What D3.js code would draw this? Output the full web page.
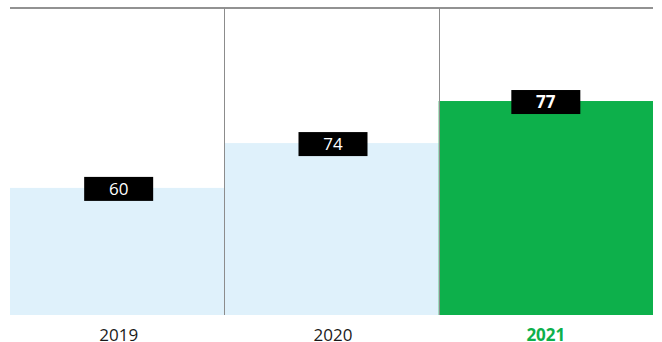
<!DOCTYPE html>
<html>
<head>
<meta charset="utf-8">
<script src="https://cdn.jsdelivr.net/npm/d3@7"></script>
<style>
  html, body { margin: 0; padding: 0; background: #fff; }
  svg { display: block; }
</style>
</head>
<body>
<svg id="chart" width="662" height="342"></svg>
<script>
const years = ["2019", "2020", "2021"];
const labelValues = [60, 74, 77];
// bar heights as drawn, in percent of the plot height
const barLevels = [41.4, 56.0, 69.7];
const highlight = "2021";

(function () {
const svg = d3.select("#chart");
const plotLeft = 10, plotRight = 653, plotTop = 8, plotBottom = 315;
const font = "'Open Sans', 'Noto Sans', sans-serif";

const x = d3.scaleBand().domain(years).range([plotLeft, plotRight]).paddingInner(0).paddingOuter(0);
const y = d3.scaleLinear().domain([0, 100]).range([plotBottom, plotTop]);

const green = "#0db04b";
const light = "#dff1fb";

// bars
svg.selectAll("rect.bar").data(years).join("rect")
  .attr("class", "bar")
  .attr("x", d => x(d))
  .attr("width", x.bandwidth())
  .attr("y", (d, i) => y(barLevels[i]))
  .attr("height", (d, i) => plotBottom - y(barLevels[i]))
  .attr("fill", d => d === highlight ? green : light);

// top line
svg.append("line")
  .attr("x1", plotLeft).attr("x2", plotRight)
  .attr("y1", plotTop).attr("y2", plotTop)
  .attr("stroke", "#6e6e6e").attr("stroke-width", 1.5);

// separators
svg.selectAll("line.sep").data(years.slice(1)).join("line")
  .attr("class", "sep")
  .attr("x1", d => Math.round(x(d)) + 0.5).attr("x2", d => Math.round(x(d)) + 0.5)
  .attr("y1", plotTop).attr("y2", plotBottom)
  .attr("stroke", "#8c8c8c").attr("stroke-width", 1);

// value labels
const boxW = 69, boxH = 24;
const cx = d => x(d) + x.bandwidth() / 2 + (d === highlight ? 0 : 1.5);
const g = svg.selectAll("g.lab").data(years).join("g").attr("class", "lab");
g.append("rect")
  .attr("x", d => cx(d) - boxW / 2)
  .attr("y", (d, i) => y(barLevels[i]) - 11)
  .attr("width", boxW).attr("height", boxH)
  .attr("fill", "#000");
g.append("text")
  .attr("x", d => cx(d))
  .attr("y", (d, i) => y(barLevels[i]) - 11 + boxH / 2 + 6)
  .attr("text-anchor", "middle")
  .attr("font-family", font)
  .attr("font-size", 17)
  .attr("font-weight", d => d === highlight ? 700 : 400)
  .attr("fill", "#fff")
  .text((d, i) => labelValues[i]);

// axis labels
const axis = d3.axisBottom(x).tickSize(0).tickPadding(0);
const ax = svg.append("g").attr("transform", `translate(0, ${plotBottom})`).call(axis);
ax.select(".domain").remove();
ax.selectAll("text")
  .attr("y", 25.5)
  .attr("dy", 0)
  .attr("dx", d => d === highlight ? 0 : 1.5)
  .attr("font-family", font)
  .attr("font-size", 17)
  .attr("font-weight", d => d === highlight ? 700 : 400)
  .attr("fill", d => d === highlight ? green : "#1a1a1a");
})();
</script>
</body>
</html>
